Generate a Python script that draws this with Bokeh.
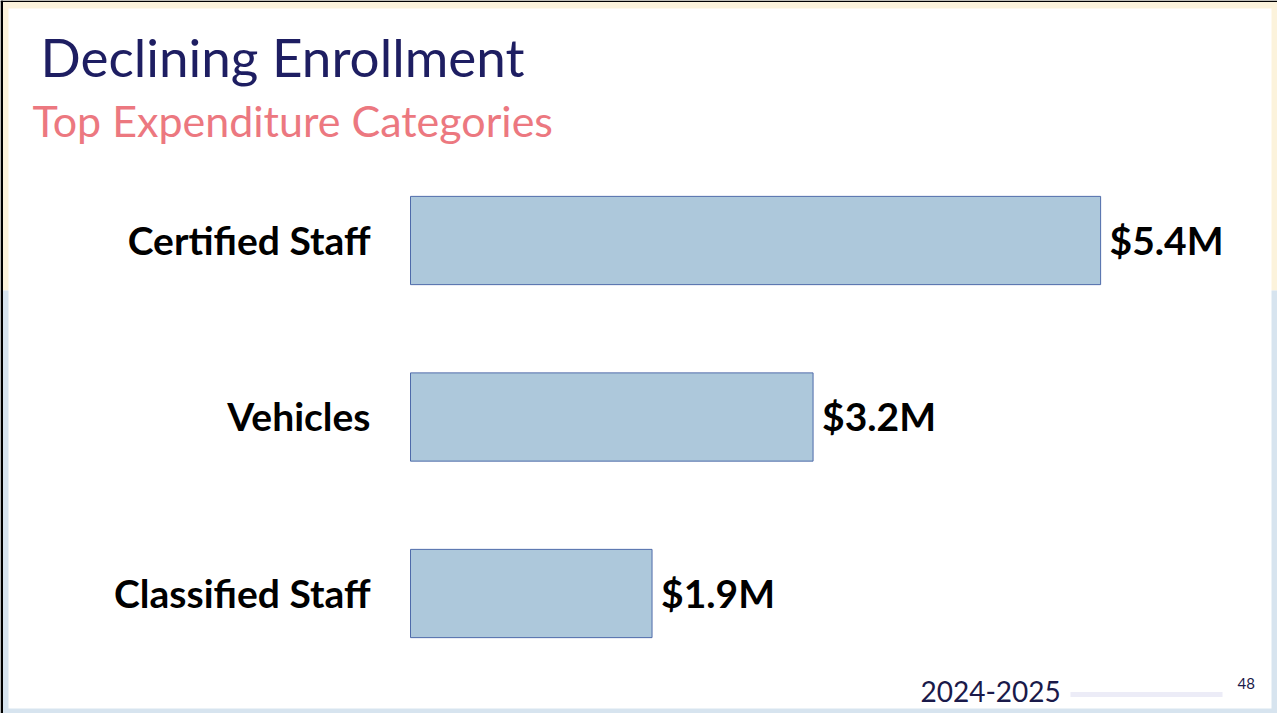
from bokeh.plotting import figure
from bokeh.models import Range1d, ColumnDataSource
from bokeh.core.properties import value
from bokeh.embed import file_html
from bokeh.resources import INLINE

# ---- data ----
categories = ["Certified Staff", "Vehicles", "Classified Staff"]
amounts = [5.40, 3.15, 1.89]          # $ millions
amount_labels = ["$5.4M", "$3.2M", "$1.9M"]
title_text = "Declining Enrollment"
subtitle_text = "Top Expenditure Categories"
footer_text = "2024-2025"
page_number = "48"

W, H = 1277, 713
PX_PER_UNIT = 127.8
ORIGIN_X = 410
ROW_H = 176.5
ROW0_Y = 240

p = figure(width=W, height=H, output_backend="svg", toolbar_location=None,
           x_range=Range1d(-ORIGIN_X / PX_PER_UNIT, (W - ORIGIN_X) / PX_PER_UNIT),
           y_range=Range1d((H - ROW0_Y) / ROW_H, -ROW0_Y / ROW_H),
           min_border=0, outline_line_color=None, background_fill_color="white",
           border_fill_color="white")
p.axis.visible = False
p.grid.visible = False
p.extra_x_ranges = {"px": Range1d(0, W)}
p.extra_y_ranges = {"py": Range1d(H, 0)}

# ---- slide decoration (pixel space) ----
p.quad(left=[0], right=[W], top=[0], bottom=[290], fill_color="#FCF3DC", line_color=None,
       x_range_name="px", y_range_name="py")
p.quad(left=[0], right=[W], top=[290], bottom=[H], fill_color="#D7E4EF", line_color=None,
       x_range_name="px", y_range_name="py")
p.quad(left=[8], right=[1271], top=[8], bottom=[708], fill_color="white", line_color=None,
       x_range_name="px", y_range_name="py")
p.quad(left=[0], right=[2.5], top=[0], bottom=[H], fill_color="black", line_color=None,
       x_range_name="px", y_range_name="py")
p.quad(left=[0], right=[W], top=[0], bottom=[1.5], fill_color="black", line_color=None,
       x_range_name="px", y_range_name="py")

# ---- bars ----
idx = list(range(len(categories)))
src = ColumnDataSource(dict(y=idx, cat=categories, amt=amounts, lab=amount_labels,
                            zero=[0] * len(idx)))
p.hbar(y="y", left=0, right="amt", height=0.5, source=src,
       fill_color="#ADC8DB", line_color="#4F6BAA", line_width=1)

p.text(x="zero", y="y", text="cat", source=src, x_offset=-40, y_offset=-1,
       text_align="right", text_baseline="middle",
       text_font=value("Lato"), text_font_style="bold", text_font_size="39px",
       text_color="black")
p.text(x="amt", y="y", text="lab", source=src, x_offset=9, y_offset=-1,
       text_align="left", text_baseline="middle",
       text_font=value("Lato"), text_font_style="bold", text_font_size="39px",
       text_color="black")

# ---- titles / footer ----
p.text(x=[40], y=[56], text=[title_text], x_range_name="px", y_range_name="py",
       text_font=value("Lato"), text_font_size="53px", text_color="#1E1E62",
       text_baseline="middle")
p.text(x=[32], y=[120], text=[subtitle_text], x_range_name="px", y_range_name="py",
       text_font=value("Lato"), text_font_size="43px", text_color="#EC7880",
       text_baseline="middle")
p.text(x=[920], y=[691], text=[footer_text], x_range_name="px", y_range_name="py",
       text_font=value("Lato"), text_font_size="28px", text_color="#1A1A4A",
       text_baseline="middle")
p.segment(x0=[1070], x1=[1222], y0=[694], y1=[694], line_color="#ECECF7", line_width=5,
          x_range_name="px", y_range_name="py")
p.text(x=[1237], y=[683], text=[page_number], x_range_name="px", y_range_name="py",
       text_font=value("Lato"), text_font_size="15px", text_color="#1A1A4A",
       text_baseline="middle")

open("out.html", "w").write(file_html(p, INLINE))
